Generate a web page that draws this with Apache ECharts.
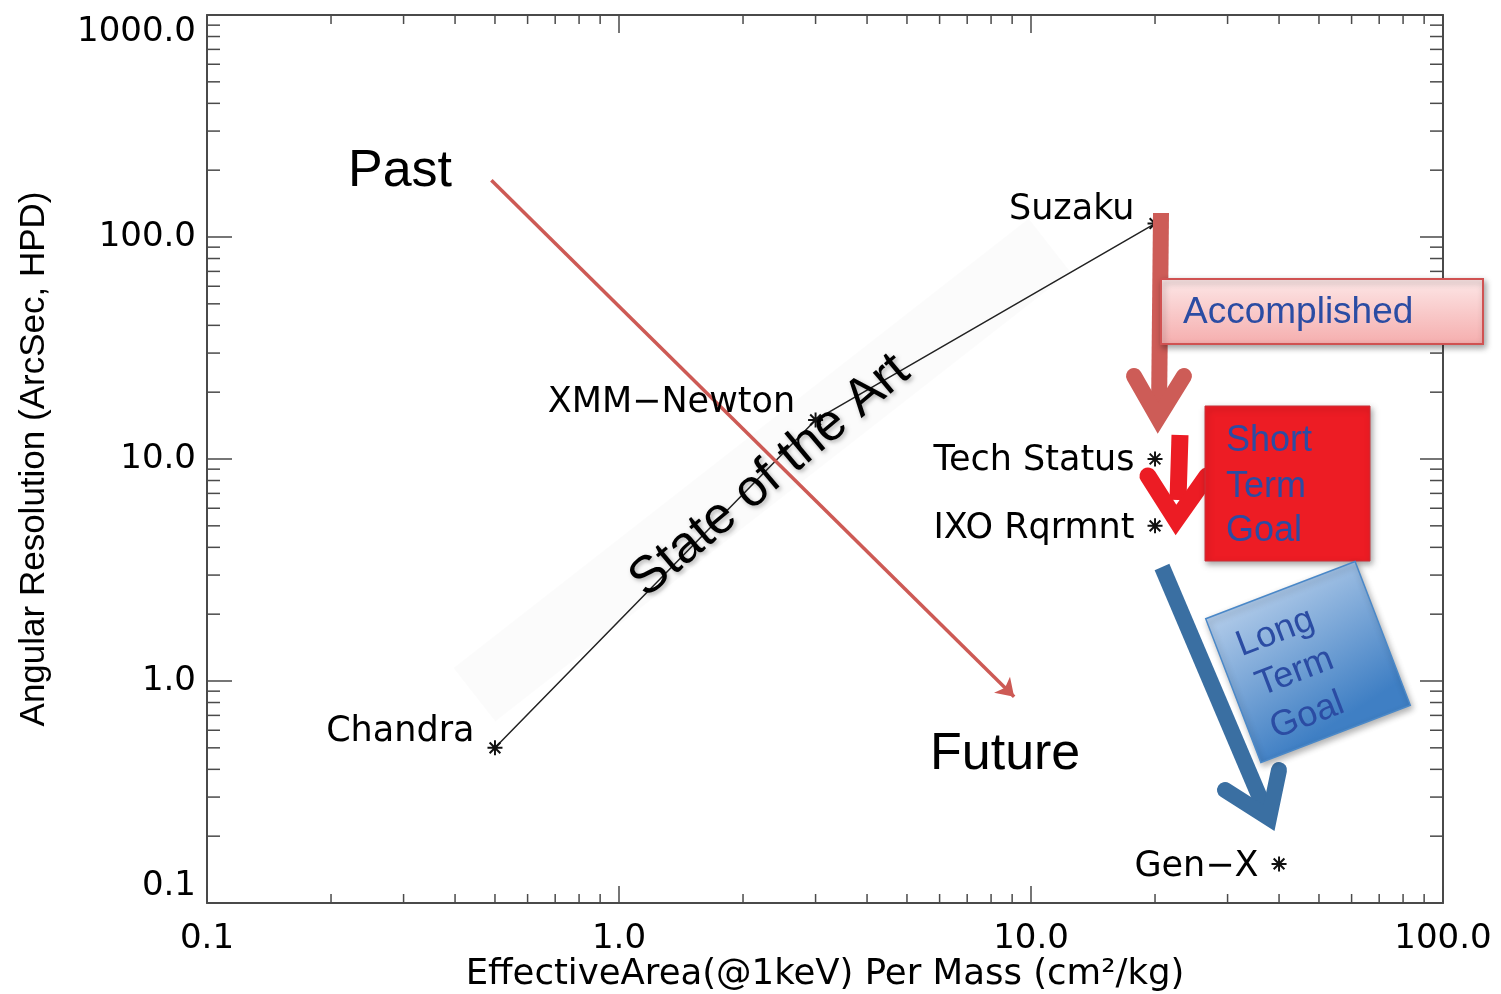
<!DOCTYPE html>
<html>
<head>
<meta charset="utf-8">
<title>Angular resolution vs effective area per mass</title>
<script src="https://cdn.jsdelivr.net/npm/echarts@6.0.0/dist/echarts.min.js"></script>
<style>
  html, body { margin: 0; padding: 0; background: #fff; }
  #chart { width: 1501px; height: 994px; }
</style>
</head>
<body>
<div id="chart"></div>
<script>
// missions
const missionNames = ['Chandra', 'XMM\u2212Newton', 'Suzaku', 'Tech Status', 'IXO Rqrmnt', 'Gen\u2212X'];
const missionArea = [0.5, 3, 20, 20, 20, 40];      // cm2/kg @1keV
const missionHpd = [0.5, 15, 115, 10, 5, 0.15];    // arcsec
// joined by the thin black line
const lineMissions = ['Chandra', 'XMM\u2212Newton', 'Suzaku'];

const xTickLabels = ['0.1', '1.0', '10.0', '100.0'];
const yTickLabels = ['0.1', '1.0', '10.0', '100.0', '1000.0'];
const minorSteps = [2, 3, 4, 5, 6, 7, 8, 9];
const xDecades = [0.1, 1, 10];
const yDecades = [0.1, 1, 10, 100];

// past -> future arrow, in data coords
const pastArrowFrom = [0.49, 180];
const pastArrowTo = [9.1, 0.85];

const plotFont = 'DejaVu Sans';
const slideFont = 'Liberation Sans';
const frameColor = '#4a4a4a';
const blueText = '#2b4ca3';

// label placement per mission
const labelShift = {
  'Chandra': [0, -16],
  'XMM\u2212Newton': [0, -17],
  'Suzaku': [0, -14],
  'Tech Status': [0, 2],
  'IXO Rqrmnt': [0, 3],
  'Gen\u2212X': [0, 3]
};

const asterisk = 'path://M8.7 0H11.3V20H8.7Z M0 8.7H20V11.3H0Z M1.9 3.8L3.8 1.9L18.1 16.2L16.2 18.1Z M16.2 1.9L18.1 3.8L3.8 18.1L1.9 16.2Z';

const minorTicks = [];
xDecades.forEach(d => minorSteps.forEach(s => minorTicks.push([d * s, 1, 0])));
yDecades.forEach(d => minorSteps.forEach(s => minorTicks.push([1, d * s, 1])));

const lineData = lineMissions.map(n => {
  const i = missionNames.indexOf(n);
  return [missionArea[i], missionHpd[i]];
});

const pointData = missionNames.map((n, i) => ({
  name: n,
  value: [missionArea[i], missionHpd[i]],
  label: { offset: labelShift[n] }
}));

const chart = echarts.init(document.getElementById('chart'));

function xLabel(v) { return xTickLabels[Math.round(Math.log10(v)) + 1]; }
function yLabel(v) { return yTickLabels[Math.round(Math.log10(v)) + 1]; }

const deg = Math.PI / 180;

function arrow(color, shaft, head, w) {
  return [
    { type: 'polyline', z: 50, shape: { points: shaft },
      style: { stroke: color, lineWidth: w, lineCap: 'butt', fill: null } },
    { type: 'polyline', z: 50, shape: { points: head },
      style: { stroke: color, lineWidth: w, lineCap: 'round', lineJoin: 'miter', miterLimit: 6, fill: null } }
  ];
}

const overlays = [
  // faint band behind the "state of the art" label
  { type: 'rect', z: 1, x: 762, y: 470, rotation: 38 * deg,
    shape: { x: -365, y: -34, width: 730, height: 68 },
    style: { fill: 'rgba(0,0,0,0.014)', shadowBlur: 18, shadowColor: 'rgba(0,0,0,0.025)' } },
  { type: 'text', z: 60, x: 348, y: 172,
    style: { text: 'Past', font: '52px ' + slideFont, fill: '#000', textVerticalAlign: 'middle' } },
  { type: 'text', z: 60, x: 930, y: 755,
    style: { text: 'Future', font: '52px ' + slideFont, fill: '#000', textVerticalAlign: 'middle' } },
  { type: 'text', z: 60, x: 770, y: 476, rotation: 40 * deg,
    style: { text: 'State of the Art', font: '52px ' + slideFont, fill: '#000',
      textAlign: 'center', textVerticalAlign: 'middle',
      textShadowColor: 'rgba(0,0,0,0.3)', textShadowBlur: 4, textShadowOffsetX: 2, textShadowOffsetY: 2 } },

  ...arrow('#cd5c57', [[1161, 213], [1159, 412]], [[1134, 376], [1158, 418], [1184, 376]], 16),
  { type: 'rect', z: 55, shape: { x: 1161, y: 279, width: 322, height: 65 },
    style: { fill: { type: 'linear', x: 0, y: 0, x2: 0, y2: 1,
        colorStops: [{ offset: 0, color: '#fde8e8' }, { offset: 1, color: '#f5adad' }] },
      stroke: '#d05252', lineWidth: 2,
      shadowBlur: 6, shadowOffsetX: 2, shadowOffsetY: 3, shadowColor: 'rgba(0,0,0,0.35)' } },
  { type: 'text', z: 60, x: 1183, y: 313,
    style: { text: 'Accomplished', font: '37px ' + slideFont, fill: blueText, textVerticalAlign: 'middle' } },

  { type: 'rect', z: 55, shape: { x: 1205, y: 406, width: 165, height: 155 },
    style: { fill: '#ed1c24', stroke: '#c8323a', lineWidth: 1,
      shadowBlur: 6, shadowOffsetX: 2, shadowOffsetY: 3, shadowColor: 'rgba(0,0,0,0.35)' } },
  ...arrow('#ec1c24', [[1180, 435], [1178, 500]], [[1148, 476], [1176, 520], [1207, 476]], 17),
  { type: 'text', z: 60, x: 1226, y: 441,
    style: { text: 'Short', font: '36px ' + slideFont, fill: blueText, textVerticalAlign: 'middle' } },
  { type: 'text', z: 60, x: 1226, y: 487,
    style: { text: 'Term', font: '36px ' + slideFont, fill: blueText, textVerticalAlign: 'middle' } },
  { type: 'text', z: 60, x: 1226, y: 531,
    style: { text: 'Goal', font: '36px ' + slideFont, fill: blueText, textVerticalAlign: 'middle' } },

  ...arrow('#3a6fa2', [[1162, 567], [1266, 812]], [[1225, 790], [1269, 818], [1279, 770]], 16),
  { type: 'group', z: 55, x: 1308, y: 662, rotation: 21 * deg,
    children: [
      { type: 'rect', z: 55, shape: { x: -80, y: -77, width: 160, height: 154 },
        style: { fill: { type: 'linear', x: 0, y: 0, x2: 0.2, y2: 1,
            colorStops: [{ offset: 0, color: '#b4cdea' }, { offset: 1, color: '#3f7fc4' }] },
          stroke: '#4a88c8', lineWidth: 1.5,
          shadowBlur: 6, shadowOffsetX: 2, shadowOffsetY: 3, shadowColor: 'rgba(0,0,0,0.3)' } },
      { type: 'text', z: 60, x: -60, y: -39,
        style: { text: 'Long', font: '36px ' + slideFont, fill: blueText, textVerticalAlign: 'middle' } },
      { type: 'text', z: 60, x: -56, y: 5,
        style: { text: 'Term', font: '36px ' + slideFont, fill: blueText, textVerticalAlign: 'middle' } },
      { type: 'text', z: 60, x: -58, y: 50,
        style: { text: 'Goal', font: '36px ' + slideFont, fill: blueText, textVerticalAlign: 'middle' } }
    ] }
];

const frameLine = { show: true, lineStyle: { color: frameColor, width: 2 } };

chart.setOption({
  animation: false,
  backgroundColor: '#fff',
  grid: { left: 207, right: 58, top: 15, bottom: 91, outerBoundsMode: 'none' },
  xAxis: [
    { type: 'log', logBase: 10, min: 0.1, max: 100, position: 'bottom',
      name: 'EffectiveArea(@1keV) Per Mass (cm\u00b2/kg)', nameLocation: 'middle', nameGap: 54,
      nameMoveOverlap: false,
      nameTextStyle: { fontFamily: plotFont, fontSize: 35.5, color: '#000' },
      axisLine: frameLine,
      axisTick: { show: true, inside: true, length: 17, lineStyle: { color: frameColor, width: 1.5 } },
      axisLabel: { formatter: xLabel, fontFamily: plotFont, fontSize: 34, color: '#000', margin: 19 },
      splitLine: { show: false } },
    { type: 'log', logBase: 10, min: 0.1, max: 100, position: 'top',
      axisLine: frameLine,
      axisTick: { show: true, inside: true, length: 18, lineStyle: { color: frameColor, width: 1.5 } },
      axisLabel: { show: false }, splitLine: { show: false } }
  ],
  yAxis: [
    { type: 'log', logBase: 10, min: 0.1, max: 1000, position: 'left',
      name: 'Angular Resolution (ArcSec, HPD)', nameLocation: 'middle', nameGap: 155,
      nameMoveOverlap: false,
      nameTextStyle: { fontFamily: slideFont, fontSize: 35, color: '#000' },
      axisLine: frameLine,
      axisTick: { show: true, inside: true, length: 25, lineStyle: { color: frameColor, width: 1.5 } },
      axisLabel: { formatter: yLabel, fontFamily: plotFont, fontSize: 34, color: '#000', margin: 11,
        verticalAlignMaxLabel: 'top', verticalAlignMinLabel: 'bottom' },
      splitLine: { show: false } },
    { type: 'log', logBase: 10, min: 0.1, max: 1000, position: 'right',
      axisLine: frameLine,
      axisTick: { show: true, inside: true, length: 23, lineStyle: { color: frameColor, width: 1.5 } },
      axisLabel: { show: false }, splitLine: { show: false } }
  ],
  series: [
    { type: 'custom', name: 'minor ticks', xAxisIndex: 0, yAxisIndex: 0, silent: true, clip: false, z: 3,
      data: minorTicks,
      renderItem: function (params, api) {
        const cs = params.coordSys;
        const st = { stroke: frameColor, lineWidth: 1.5 };
        if (api.value(2) === 0) {
          const px = api.coord([api.value(0), 1])[0];
          return { type: 'group', children: [
            { type: 'line', shape: { x1: px, y1: cs.y + cs.height, x2: px, y2: cs.y + cs.height - 9 }, style: st },
            { type: 'line', shape: { x1: px, y1: cs.y, x2: px, y2: cs.y + 9 }, style: st }
          ] };
        }
        const py = api.coord([1, api.value(1)])[1];
        return { type: 'group', children: [
          { type: 'line', shape: { x1: cs.x, y1: py, x2: cs.x + 13, y2: py }, style: st },
          { type: 'line', shape: { x1: cs.x + cs.width, y1: py, x2: cs.x + cs.width - 13, y2: py }, style: st }
        ] };
      } },
    { type: 'line', name: 'state of the art', data: lineData, symbol: 'none', z: 4,
      lineStyle: { color: '#222', width: 1.5 },
      markLine: {
        silent: true, symbol: ['none', 'arrow'], symbolSize: 17, z: 5,
        label: { show: false },
        lineStyle: { color: '#cd5a55', width: 3.5, type: 'solid' },
        data: [[{ coord: pastArrowFrom }, { coord: pastArrowTo }]]
      } },
    { type: 'scatter', name: 'missions', data: pointData, symbol: asterisk, symbolSize: 15, z: 6,
      itemStyle: { color: '#111', opacity: 1 },
      label: { show: true, position: 'left', distance: 13, formatter: '{b}',
        fontFamily: plotFont, fontSize: 35, color: '#000' } }
  ],
  graphic: { elements: overlays }
});
</script>
</body>
</html>
